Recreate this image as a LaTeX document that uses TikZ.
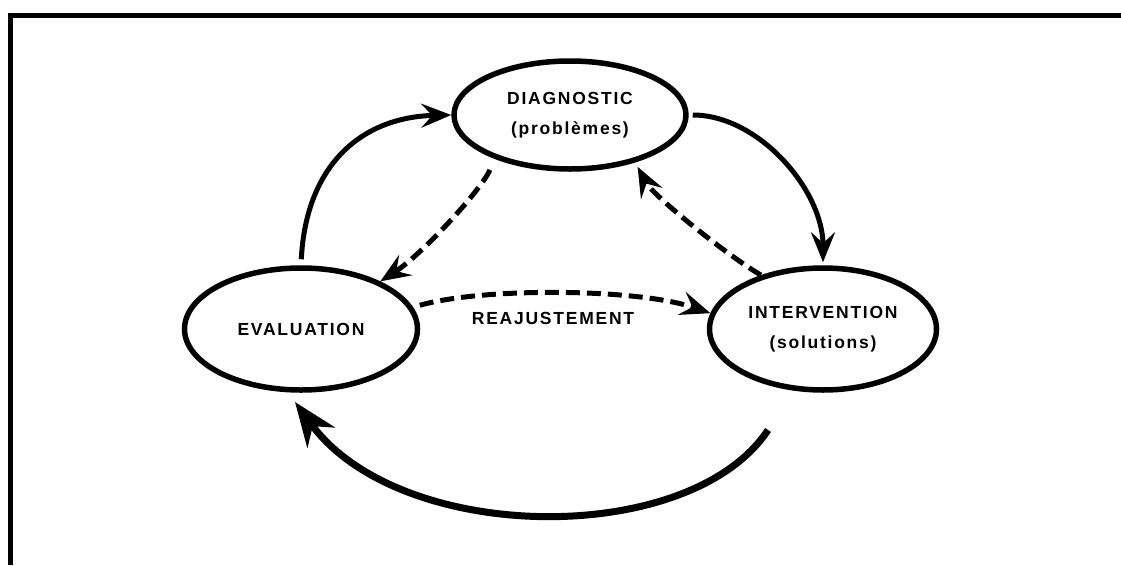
\documentclass[tikz,border=0pt]{standalone}
\usepackage{fontspec}
\setmainfont{Liberation Sans}
\newfontfamily\labfont{Liberation Sans}[LetterSpace=10]
\usetikzlibrary{arrows.meta,shapes.geometric}
\begin{document}
\begin{tikzpicture}[x=1pt,y=-1pt,
  bubble/.style={ellipse,draw,line width=5.5pt,inner sep=0pt,align=center,
     font=\labfont\bfseries\fontsize{17.5}{30}\selectfont},
  tipS/.style={-{Stealth[length=30pt,width=24pt,inset=11pt]}},
  solidlink/.style={line width=5pt,tipS},
  dashlink/.style={line width=5pt,dash pattern=on 14pt off 7pt,tipS},
  lbl/.style={font=\labfont\bfseries\fontsize{17.5}{20}\selectfont,inner sep=0pt}]
\useasboundingbox (0,0) rectangle (1121,565);
\fill[white] (0,0) rectangle (1121,565);
% frame
\draw[line width=5pt] (10,565) -- (10,15) -- (1121,15);
% nodes
\node[bubble,minimum width=232pt,minimum height=108pt] (diag) at (570,115) {DIAGNOSTIC\\(problèmes)};
\node[bubble,minimum width=233pt,minimum height=122pt] (eval) at (301,329) {EVALUATION};
\node[bubble,minimum width=227pt,minimum height=122pt] (interv) at (823,329) {INTERVENTION\\(solutions)};
\node[lbl] (reaj) at (553,318) {REAJUSTEMENT};
% solid arrows
\draw[solidlink,shorten <=6pt] (eval.north) .. controls +(5,-100) and +(-90,2) .. (diag.west);
\draw[solidlink,shorten <=4pt,shorten >=3pt] (diag.east) .. controls +(70,0) and +(0,-75) .. (interv.north);
% dashed arrows
\draw[dashlink,shorten <=12pt] (diag.210) .. controls +(-12,30) and +(42,-27) .. (eval.31);
\draw[dashlink,shorten >=5pt] (interv.139) .. controls +(-30,-17) and +(18,34) .. (diag.324);
\draw[dashlink,shorten <=7pt] (eval.11) .. controls +(70,-20) and +(-73,-25) .. (interv.172);
% bottom arrow
\coordinate (bs) at (768,430);
\coordinate (be) at (295,402);
\draw[line width=7pt,-{Stealth[length=44pt,width=34pt,inset=14pt]}] (bs) .. controls (690,548) and (400,545) .. (be);
\end{tikzpicture}
\end{document}
